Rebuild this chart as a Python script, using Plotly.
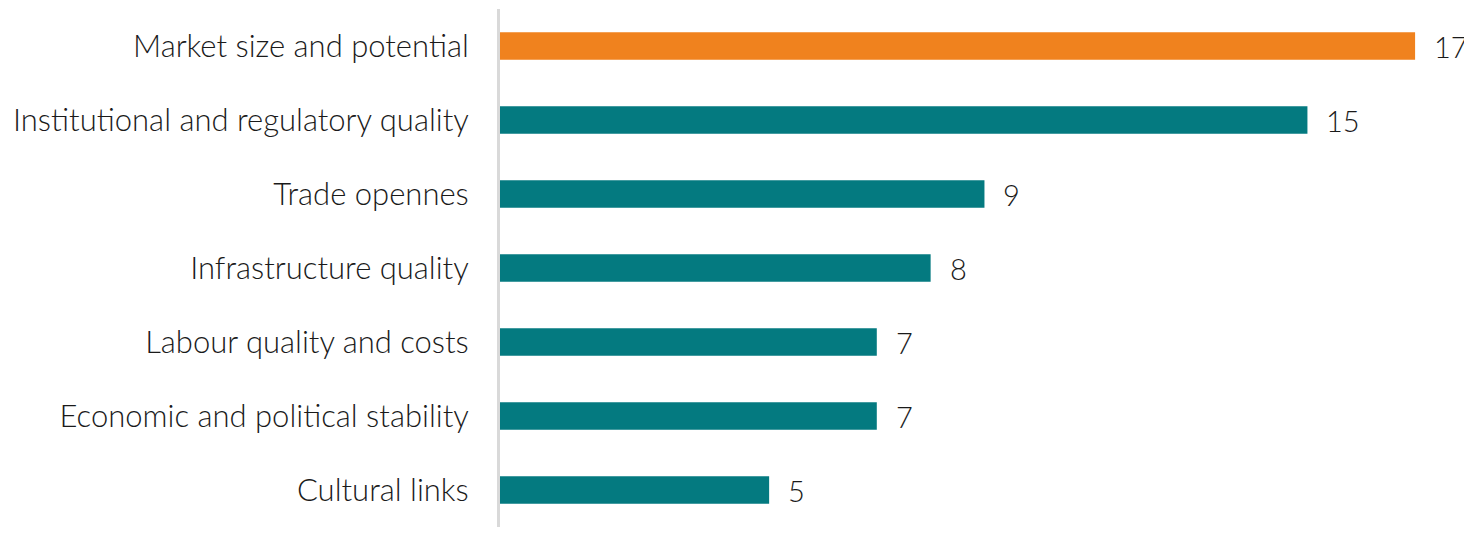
import plotly.graph_objects as go

# categories and values (top to bottom)
factors = [
    "Market size and potential",
    "Institutional and regulatory quality",
    "Trade opennes",
    "Infrastructure quality",
    "Labour quality and costs",
    "Economic and political stability",
    "Cultural links",
]
counts = [17, 15, 9, 8, 7, 7, 5]
bar_colors = ["#F0821E"] + ["#047A80"] * 6

font_family = "Lato"
tick_font = dict(family=font_family, size=31, color="#1a1a1a", weight=300)
value_font = dict(family=font_family, size=29, color="#1a1a1a", weight=300)

fig = go.Figure()
fig.add_trace(go.Bar(
    x=counts,
    y=factors,
    orientation="h",
    width=0.37,
    marker=dict(color=bar_colors, line=dict(width=0)),
    hoverinfo="skip",
))

# value labels just right of each bar
for f, v in zip(factors, counts):
    fig.add_annotation(
        x=v, y=f, text=str(v), showarrow=False,
        xanchor="left", xshift=17,
        font=value_font,
    )

# page body has an 8px margin, so the figure is a bit smaller than the window
fig.update_layout(
    width=1464,
    height=527,
    margin=dict(l=492, r=30, t=1, b=8),
    plot_bgcolor="white",
    paper_bgcolor="white",
    showlegend=False,
)
fig.update_xaxes(range=[0, 17.5], visible=False)
fig.update_yaxes(
    autorange="reversed",
    automargin=False,
    showline=True, linecolor="#d9d9d9", linewidth=3,
    ticks="", showgrid=False,
    ticklabelstandoff=22,
    tickfont=tick_font,
)

fig.write_html("out.html")
